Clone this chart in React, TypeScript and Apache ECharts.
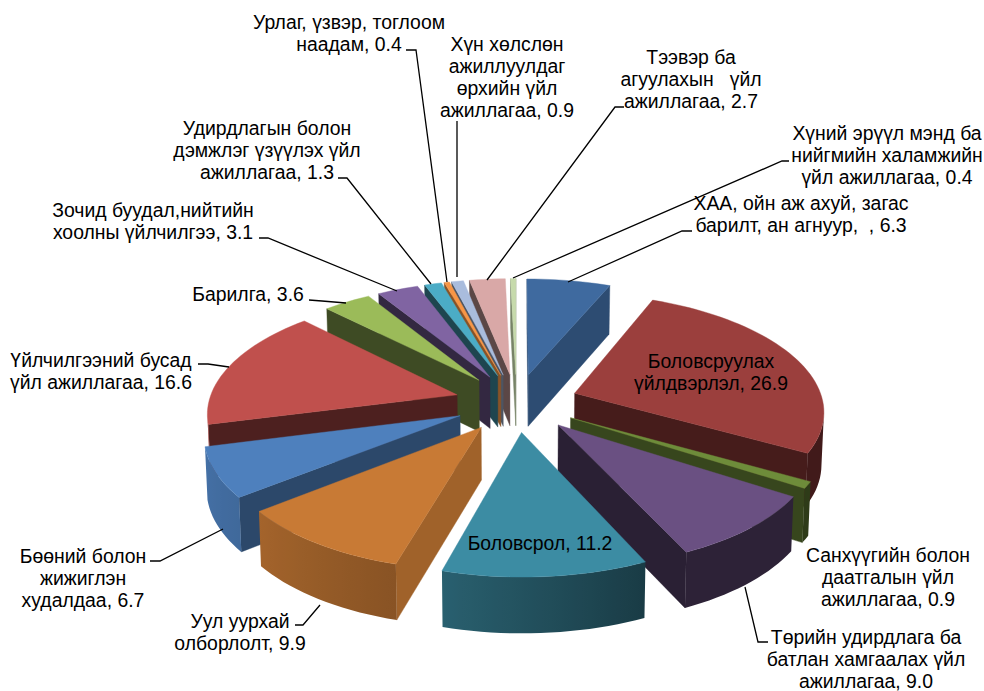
import React, { useEffect, useRef } from "react";
import * as echarts from "echarts";

const categories = [
  "ХАА, ойн аж ахуй, загас\nбарилт, ан агнуур,  ",
  "Боловсруулах\nүйлдвэрлэл",
  "Санхүүгийн болон\nдаатгалын үйл\nажиллагаа",
  "Төрийн удирдлага ба\nбатлан хамгаалах үйл\nажиллагаа",
  "Боловсрол",
  "Уул уурхай\nолборлолт",
  "Бөөний болон\nжижиглэн\nхудалдаа",
  "Үйлчилгээний бусад\nүйл ажиллагаа",
  "Барилга",
  "Зочид буудал,нийтийн\nхоолны үйлчилгээ",
  "Удирдлагын болон\nдэмжлэг үзүүлэх үйл\nажиллагаа",
  "Урлаг, үзвэр, тоглоом\nнаадам",
  "Хүн хөлслөн\nажиллуулдаг\nөрхийн үйл\nажиллагаа",
  "Тээвэр ба\nагуулахын   үйл\nажиллагаа",
  "Хүний эрүүл мэнд ба\nнийгмийн халамжийн\nүйл ажиллагаа",
];
const values = [6.3, 26.9, 0.9, 9.0, 11.2, 9.9, 6.7, 16.6, 3.6, 3.1, 1.3, 0.4, 0.9, 2.7, 0.4];
const topColors = [
  "#3F6A9F", "#9B3F3D", "#6E8C3A", "#6A5082", "#3C8CA3", "#C87A35", "#4E80BD", "#C0504D",
  "#9BBB59", "#8064A2", "#4BACC6", "#F79646", "#A9BCDD", "#D9A8A7", "#C6DAAB",
];
const radialShade = [0.72, 0.45, 0.5, 0.4, 0.6, 0.8, 0.56, 0.4, 0.4, 0.4, 0.4, 0.55, 0.45, 0.42, 0.6];

// label anchors: centre x, y of first line centre
const labelPos: number[][] = [
  [801, 203], [711, 361], [888, 555], [866, 637], [540, 543], [240, 621], [83, 556], [101, 360],
  [248, 294], [153, 210], [267, 128], [349, 22], [507, 44], [691, 57], [887, 133],
];
const leaders: number[][][] = [
  [[568, 282], [682, 231], [692, 231]],
  [],
  [],
  [[745, 587], [758, 642], [768, 642]],
  [],
  [[320, 605], [303, 625], [295, 625]],
  [[223, 529], [160, 561], [150, 561]],
  [[229, 367], [208, 364], [198, 364]],
  [[346, 303], [322, 301], [309, 300]],
  [[397, 291], [268, 238], [259, 238]],
  [[431, 284], [347, 178], [338, 178]],
  [[447, 282], [416, 50], [406, 50]],
  [[457, 277], [457, 121]],
  [[487, 280], [615, 107], [624, 107]],
  [[513, 278], [782, 161], [789, 161]],
];

const CX = 516.5, CY = 402.5, RX = 248.5, RY = 116, K = 0.136, EXPLODE = 0.25, DEPTH = 52;
const TOTAL = values.reduce((a, b) => a + b, 0);

function project(u: number, v: number) {
  const d = 1 - K * v;
  return { x: CX + (RX * u) / d, y: CY + (RY * v) / d, v };
}
function lower(p: { x: number; y: number; v: number }) {
  const dep = DEPTH / (1 - 0.45 * K * p.v);
  return [CX + (p.x - CX) * 0.992, p.y + dep];
}
function shade(hex: string, f: number) {
  const n = parseInt(hex.slice(1), 16);
  const c = [(n >> 16) & 255, (n >> 8) & 255, n & 255].map((x) => Math.round(x * f));
  return `rgb(${c[0]},${c[1]},${c[2]})`;
}
function arcShade(deg: number) {
  if (deg <= 155) return 0.42;
  if (deg <= 195) return 0.42 + ((deg - 155) / 40) * 0.26;
  if (deg <= 231) return 0.68 + ((deg - 195) / 36) * 0.14;
  return Math.min(0.88, 0.82 + ((deg - 231) / 24) * 0.06);
}

function buildSlices() {
  let cum = 0;
  return values.map((val, i) => {
    const a0 = (cum / TOTAL) * 360;
    cum += val;
    const a1 = (cum / TOTAL) * 360;
    return { i, a0, a1, mid: (a0 + a1) / 2 };
  });
}

function renderSlice(params: any, api: any) {
  const i = api.value(0);
  const a0 = api.value(1);
  const a1 = api.value(2);
  const mid = ((a0 + a1) / 2) * (Math.PI / 180);
  const ox = EXPLODE * Math.sin(mid);
  const oy = -EXPLODE * Math.cos(mid);
  const apex = project(ox, oy);
  const n = Math.max(2, Math.ceil((a1 - a0) / 2));
  const arc: { x: number; y: number; v: number; deg: number }[] = [];
  for (let s = 0; s <= n; s++) {
    const deg = a0 + ((a1 - a0) * s) / n;
    const t = (deg * Math.PI) / 180;
    const p = project(ox + Math.sin(t), oy - Math.cos(t));
    arc.push({ ...p, deg });
  }
  const color = topColors[i];
  const children: any[] = [];
  const wall = (A: any, B: any, fill: string) => {
    const la = lower(A);
    const lb = lower(B);
    children.push({
      type: "polygon",
      shape: { points: [[A.x, A.y], [B.x, B.y], lb, la] },
      style: { fill, stroke: fill, lineWidth: 0.4 },
    });
  };
  // radial walls first; only those whose face turns to the viewer
  const radial = shade(color, radialShade[i]);
  if (arc[0].x < apex.x) wall(apex, arc[0], radial);
  if (apex.x < arc[n].x) wall(arc[n], apex, radial);
  // the visible stretch of the outer wall, shaded along x
  const vis: typeof arc = [];
  for (let s = 0; s < n; s++) {
    if (arc[s + 1].x < arc[s].x) {
      if (!vis.length) vis.push(arc[s]);
      vis.push(arc[s + 1]);
    }
  }
  if (vis.length > 1) {
    const lows = vis.map((p) => lower(p));
    const pts = [...vis.map((p) => [p.x, p.y]), ...lows.slice().reverse()];
    const xs = pts.map((p) => p[0]);
    const minX = Math.min(...xs);
    const maxX = Math.max(...xs);
    const stops = vis
      .map((p) => ({
        offset: Math.min(1, Math.max(0, (p.x - minX) / (maxX - minX))),
        color: shade(color, arcShade(p.deg)),
      }))
      .reverse();
    children.push({
      type: "polygon",
      shape: { points: pts },
      style: {
        fill: { type: "linear", x: 0, y: 0, x2: 1, y2: 0, colorStops: stops },
      },
    });
  }
  children.push({
    type: "polygon",
    shape: { points: [[apex.x, apex.y], ...arc.map((p) => [p.x, p.y])] },
    style: { fill: color, stroke: color, lineWidth: 0.4 },
  });
  return { type: "group", children };
}

function App() {
  const ref = useRef<HTMLDivElement>(null);
  useEffect(() => {
    const chart = echarts.init(ref.current!, undefined, { renderer: "svg" });
    const slices = buildSlices();
    // painter's order: far slices first
    const order = [...slices].sort((a, b) => {
      const va = -Math.cos((a.mid * Math.PI) / 180);
      const vb = -Math.cos((b.mid * Math.PI) / 180);
      return va - vb;
    });
    const font = "'Liberation Sans', Arial, sans-serif";
    const FS = 19.4;
    const LH = 22;
    const graphics: any[] = [];
    leaders.forEach((pts) => {
      if (pts.length) {
        graphics.push({
          type: "polyline",
          z: 5,
          shape: { points: pts },
          style: { stroke: "#000", lineWidth: 1.3, fill: "none" },
        });
      }
    });
    categories.forEach((name, i) => {
      const lines = `${name}, ${values[i].toFixed(1)}`.split("\n");
      lines.forEach((line, j) => {
        graphics.push({
          type: "text",
          z: 6,
          x: labelPos[i][0],
          y: labelPos[i][1] + j * LH,
          style: {
            text: line,
            font: `${FS}px ${font}`,
            fill: "#000",
            align: "center",
            verticalAlign: "middle",
          },
        });
      });
    });
    chart.setOption({
      animation: false,
      backgroundColor: "#fff",
      series: [
        {
          type: "custom",
          coordinateSystem: "none",
          renderItem: renderSlice,
          data: order.map((s) => [s.i, s.a0, s.a1]),
          silent: true,
          z: 2,
        },
      ],
      graphic: graphics,
    });
    return () => chart.dispose();
  }, []);
  return <div ref={ref} style={{ width: 984, height: 691, position: "absolute", left: 0, top: 0 }} />;
}

export default App;
